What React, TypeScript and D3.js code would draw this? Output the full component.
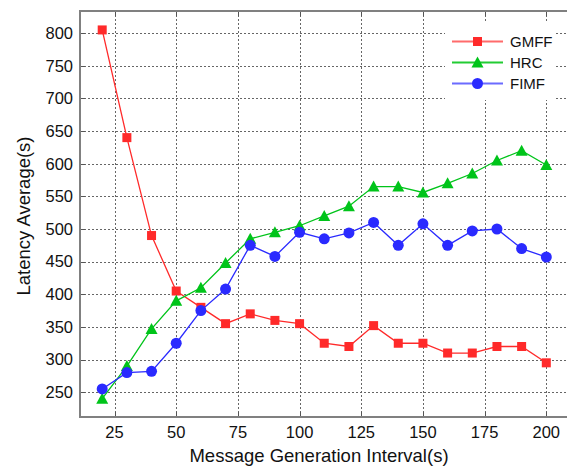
import React, { useRef, useEffect } from "react";
import * as d3 from "d3";

// message generation interval (s)
const intervals = [20, 30, 40, 50, 60, 70, 80, 90, 100, 110, 120, 130, 140, 150, 160, 170, 180, 190, 200];
const gmff = [805, 640, 490, 405, 380, 355, 370, 360, 355, 325, 320, 352, 325, 325, 310, 310, 320, 320, 295];
const hrc = [240, 290, 347, 390, 410, 448, 485, 495, 505, 520, 535, 565, 565, 556, 570, 585, 605, 620, 598];
const fimf = [255, 280, 282, 325, 375, 408, 475, 458, 495, 485, 494, 510, 475, 508, 475, 497, 500, 470, 457];
const xTicks = [25, 50, 75, 100, 125, 150, 175, 200];
const yTicks = [250, 300, 350, 400, 450, 500, 550, 600, 650, 700, 750, 800];

const series = [
  { name: "GMFF", values: gmff, color: "#ff2a2a", legendColor: "#ff6b6b", shape: "square" },
  { name: "HRC", values: hrc, color: "#00c41a", legendColor: "#22cc33", shape: "triangle" },
  { name: "FIMF", values: fimf, color: "#2a2aff", legendColor: "#6b6bff", shape: "circle" },
];

function App() {
  const svgRef = useRef(null);

  useEffect(() => {
    const width = 567,
      height = 466;
    const left = 80,
      right = 568.5,
      top = 11,
      bottom = 417;
    const font = "Arial, 'Liberation Sans', sans-serif";

    const svg = d3.select(svgRef.current);
    svg.selectAll("*").remove();
    svg.attr("width", width).attr("height", height);

    const x = d3.scaleLinear().domain([11, 209]).range([left, right]);
    const y = d3.scaleLinear().domain([212, 834]).range([bottom, top]);

    svg.append("rect").attr("width", width).attr("height", height).attr("fill", "#fff");

    // grid
    const grid = svg.append("g").attr("stroke", "#666").attr("stroke-width", 1).attr("stroke-dasharray", "2,2");
    grid
      .selectAll(".gx")
      .data(xTicks)
      .join("line")
      .attr("x1", (d) => Math.round(x(d)) + 0.5)
      .attr("x2", (d) => Math.round(x(d)) + 0.5)
      .attr("y1", top)
      .attr("y2", bottom);
    grid
      .selectAll(".gy")
      .data(yTicks)
      .join("line")
      .attr("x1", left)
      .attr("x2", right)
      .attr("y1", (d) => Math.round(y(d)) + 0.5)
      .attr("y2", (d) => Math.round(y(d)) + 0.5);

    // inner ticks
    const ticks = svg.append("g").attr("stroke", "#555").attr("stroke-width", 1);
    xTicks.forEach((d) => {
      const px = Math.round(x(d)) + 0.5;
      ticks.append("line").attr("x1", px).attr("x2", px).attr("y1", bottom).attr("y2", bottom - 5);
      ticks.append("line").attr("x1", px).attr("x2", px).attr("y1", top).attr("y2", top + 5);
    });
    yTicks.forEach((d) => {
      const py = Math.round(y(d)) + 0.5;
      ticks.append("line").attr("x1", left).attr("x2", left + 5).attr("y1", py).attr("y2", py);
    });

    // frame
    svg
      .append("path")
      .attr("d", `M${right},${top}H${left}V${bottom}H${right}`)
      .attr("fill", "none")
      .attr("stroke", "#808080")
      .attr("stroke-width", 2);

    // tick labels
    svg
      .append("g")
      .selectAll("text")
      .data(xTicks)
      .join("text")
      .attr("x", (d) => x(d))
      .attr("y", 438)
      .attr("text-anchor", "middle")
      .attr("font-family", font)
      .attr("font-size", 16.5)
      .attr("fill", "#111")
      .text((d) => d);
    svg
      .append("g")
      .selectAll("text")
      .data(yTicks)
      .join("text")
      .attr("x", 73)
      .attr("y", (d) => y(d) + 5.8)
      .attr("text-anchor", "end")
      .attr("font-family", font)
      .attr("font-size", 16.5)
      .attr("fill", "#111")
      .text((d) => d);

    // axis titles
    svg
      .append("text")
      .attr("x", 319)
      .attr("y", 462)
      .attr("text-anchor", "middle")
      .attr("font-family", font)
      .attr("font-size", 18.5)
      .attr("fill", "#111")
      .text("Message Generation Interval(s)");
    svg
      .append("text")
      .attr("transform", `translate(30,216) rotate(-90)`)
      .attr("text-anchor", "middle")
      .attr("font-family", font)
      .attr("font-size", 18.5)
      .attr("fill", "#111")
      .text("Latency Average(s)");

    const drawMarker = (g, shape, cx, cy, color) => {
      if (shape === "square") {
        g.append("rect").attr("x", cx - 4.5).attr("y", cy - 4.5).attr("width", 9).attr("height", 9).attr("fill", color);
      } else if (shape === "triangle") {
        g.append("path")
          .attr("d", `M${cx},${cy - 6}L${cx + 6},${cy + 5}L${cx - 6},${cy + 5}Z`)
          .attr("fill", color);
      } else {
        g.append("circle").attr("cx", cx).attr("cy", cy).attr("r", 5.5).attr("fill", color);
      }
    };

    const line = d3
      .line()
      .x((d) => x(d[0]))
      .y((d) => y(d[1]));

    series.forEach((s) => {
      const pts = intervals.map((v, i) => [v, s.values[i]]);
      const g = svg.append("g");
      g.append("path").datum(pts).attr("d", line).attr("fill", "none").attr("stroke", s.color).attr("stroke-width", 1.3);
      pts.forEach((p) => drawMarker(g, s.shape, x(p[0]), y(p[1]), s.color));
    });

    // legend
    const lg = svg.append("g");
    lg.append("rect").attr("x", 445).attr("y", 22).attr("width", 111).attr("height", 78).attr("fill", "#fff");
    series.forEach((s, i) => {
      const ly = 41.5 + i * 21;
      lg.append("line")
        .attr("x1", 452)
        .attr("x2", 503)
        .attr("y1", ly)
        .attr("y2", ly)
        .attr("stroke", s.legendColor)
        .attr("stroke-width", 2);
      drawMarker(lg, s.shape, 477.5, ly, s.color);
      lg.append("text")
        .attr("x", 510)
        .attr("y", ly + 5.5)
        .attr("font-family", font)
        .attr("font-size", 15)
        .attr("fill", "#111")
        .text(s.name);
    });
  }, []);

  return (
    <div>
      <svg ref={svgRef} style={{ position: "absolute", left: 0, top: 0 }}></svg>
    </div>
  );
}

export default App;
